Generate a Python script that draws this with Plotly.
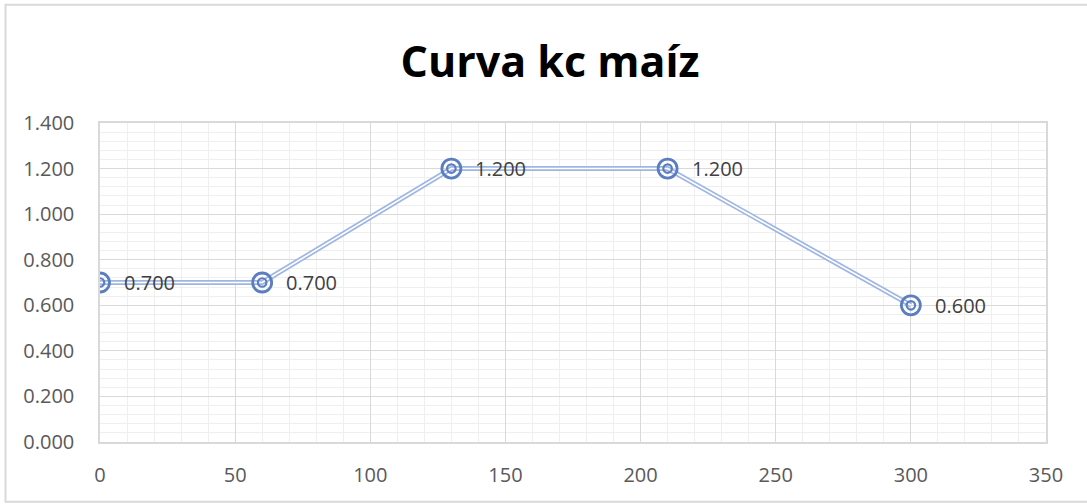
import plotly.graph_objects as go

# datos de la curva kc (días vs kc)
dias = [0, 60, 130, 210, 300]
kc = [0.7, 0.7, 1.2, 1.2, 0.6]
etiquetas = ["%.3f" % v for v in kc]

fuente = "Open Sans"
azul = "#5b7ec0"
azul_claro = "#9fb6e2"

fig = go.Figure()

# linea doble: una gruesa azul claro y una blanca fina encima
fig.add_trace(go.Scatter(x=dias, y=kc, mode="lines",
                         line=dict(color=azul_claro, width=5),
                         hoverinfo="skip", showlegend=False))
fig.add_trace(go.Scatter(x=dias, y=kc, mode="lines",
                         line=dict(color="white", width=1.6),
                         hoverinfo="skip", showlegend=False))
# marcador: circulo dentro de circulo
fig.add_trace(go.Scatter(x=dias, y=kc, mode="markers",
                         marker=dict(symbol="circle-open", size=8.5, color=azul,
                                     line=dict(color=azul, width=2.2)),
                         hoverinfo="skip", showlegend=False))
fig.add_trace(go.Scatter(x=dias, y=kc, mode="markers",
                         marker=dict(symbol="circle-open", size=19, color=azul,
                                     line=dict(color=azul, width=2.8)),
                         showlegend=False))

# etiquetas de datos a la derecha del marcador
for xi, yi, t in zip(dias, kc, etiquetas):
    fig.add_annotation(x=xi, y=yi, text=t, showarrow=False,
                       xanchor="left", yanchor="middle", xshift=22, yshift=0,
                       font=dict(family=fuente, size=20, color="#404040"))

fig.update_layout(
    width=1087, height=504,
    margin=dict(l=100, r=41, t=123, b=62),
    paper_bgcolor="white", plot_bgcolor="white",
    title=dict(text="<b>Curva kc maíz</b>", x=0.506, xanchor="center",
               y=0.877, yanchor="middle",
               font=dict(family=fuente, size=43, color="black")),
    font=dict(family=fuente, size=20, color="#595959"),
)

fig.update_xaxes(range=[0, 350], dtick=50, tick0=0,
                 showgrid=True, gridcolor="#d9d9d9", gridwidth=1,
                 minor=dict(dtick=10, showgrid=True, gridcolor="#efefef"),
                 showline=True, linecolor="#d9d9d9", linewidth=1.5, mirror=True,
                 ticks="", ticklabelstandoff=14, zeroline=False)
fig.update_yaxes(range=[0, 1.4], dtick=0.2, tick0=0, tickformat=".3f",
                 showgrid=True, gridcolor="#d9d9d9", gridwidth=1,
                 minor=dict(dtick=0.04, showgrid=True, gridcolor="#efefef"),
                 showline=True, linecolor="#d9d9d9", linewidth=1.5, mirror=True,
                 ticks="", ticklabelstandoff=20, zeroline=False)

# borde exterior del grafico
fig.add_shape(type="rect", xref="paper", yref="paper",
              x0=-0.0999, x1=1.07, y0=-0.1873, y1=1.3703,
              line=dict(color="#d9d9d9", width=2), layer="below")

fig.write_html("out.html", config={"displayModeBar": False},
               post_script="document.body.style.margin='0';")
